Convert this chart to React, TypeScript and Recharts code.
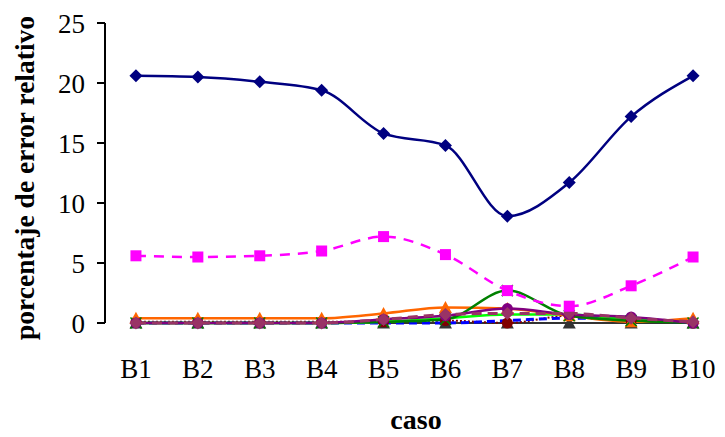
import { Line, LineChart, XAxis, YAxis } from "recharts";

const casos = ["B1", "B2", "B3", "B4", "B5", "B6", "B7", "B8", "B9", "B10"];
const yTicks = [0, 5, 10, 15, 20, 25];
const bounds = [0.5, 1.5, 2.5, 3.5, 4.5, 5.5, 6.5, 7.5, 8.5, 9.5, 10.5];

const s1 = [20.6, 20.5, 20.1, 19.4, 15.8, 14.8, 8.9, 11.7, 17.2, 20.6];
const s2 = [5.6, 5.5, 5.6, 6.0, 7.2, 5.7, 2.7, 1.4, 3.1, 5.5];
const s3 = [0.4, 0.4, 0.4, 0.4, 0.8, 1.3, 1.2, 0.6, 0.1, 0.4];
const s4 = [0, 0, 0, 0, 0, 0, 0, 0, 0, 0];
const s5 = [0, 0, 0, 0, 0.1, 0.3, 2.7, 0.6, 0.2, 0];
const s6 = [0, 0, 0, 0, 0.1, 0.4, 0.7, 0.7, 0.3, 0.1];
const s7 = [0, 0, 0, 0, 0, 0, 0.2, 0.4, 0.3, 0];
const s8 = [0.1, 0.1, 0.1, 0.1, 0.1, 0.2, 0, 0.6, 0.2, 0];
const s9 = [0, 0, 0, 0, 0.3, 0.6, 1.2, 0.7, 0.5, 0];
const s10 = [0, 0, 0, 0, 0.3, 0.7, 0.8, 0.8, 0.4, 0.1];

const data = casos.map((c, i) => ({
  x: i + 1, caso: c,
  s1: s1[i], s2: s2[i], s3: s3[i], s4: s4[i], s5: s5[i],
  s6: s6[i], s7: s7[i], s8: s8[i], s9: s9[i], s10: s10[i],
}));

const FONT = "'Liberation Serif', 'Times New Roman', serif";

type Shape = "diamond" | "square" | "triangle" | "x" | "circle";

const dot = (shape: Shape, color: string) => (p: any) => {
  const { cx, cy, index } = p;
  const k = `${shape}-${color}-${index}`;
  if (cx == null || cy == null) return <g key={k} />;
  const r = 5.5;
  if (shape === "diamond")
    return <polygon key={k} points={`${cx},${cy - r - 1} ${cx + r + 1},${cy} ${cx},${cy + r + 1} ${cx - r - 1},${cy}`} fill={color} />;
  if (shape === "square")
    return <rect key={k} x={cx - r} y={cy - r} width={2 * r} height={2 * r} fill={color} />;
  if (shape === "triangle")
    return <polygon key={k} points={`${cx},${cy - r - 1} ${cx + r + 1},${cy + r} ${cx - r - 1},${cy + r}`} fill={color} />;
  if (shape === "x")
    return (
      <g key={k} stroke={color} strokeWidth={1.5}>
        <line x1={cx - r} y1={cy - r} x2={cx + r} y2={cy + r} />
        <line x1={cx - r} y1={cy + r} x2={cx + r} y2={cy - r} />
      </g>
    );
  return <circle key={k} cx={cx} cy={cy} r={r} fill={color} />;
};

const series: { key: string; color: string; dash?: string; shape?: Shape; width?: number }[] = [
  { key: "s4", color: "#333333", shape: "triangle" },
  { key: "s8", color: "#800000", dash: "2 2", shape: "circle" },
  { key: "s7", color: "#0000FF", dash: "8 5", width: 3 },
  { key: "s6", color: "#00FF00", width: 2.5 },
  { key: "s3", color: "#FF6600", shape: "triangle", width: 2.5 },
  { key: "s5", color: "#008000", shape: "x", width: 2.5 },
  { key: "s9", color: "#800080", shape: "circle", width: 2.5 },
  { key: "s10", color: "#993366", dash: "10 6", shape: "diamond", width: 3 },
  { key: "s2", color: "#FF00FF", dash: "10 8", shape: "square", width: 2.5 },
  { key: "s1", color: "#000080", shape: "diamond", width: 2.5 },
];

export default function App() {
  return (
    <div style={{ position: "absolute", left: 0, top: 0, background: "#fff" }}>
      <LineChart width={725} height={437} data={data} margin={{ top: 23, right: 1, left: 60, bottom: 74 }}>
        <XAxis
          xAxisId="lab" dataKey="x" type="number" domain={[0.5, 10.5]} ticks={[1, 2, 3, 4, 5, 6, 7, 8, 9, 10]}
          tickFormatter={(v: number) => casos[v - 1]} tickLine={false} axisLine={false}
          tick={{ fill: "#000", fontSize: 27, fontFamily: FONT }} tickMargin={30} height={40}
          label={{
            content: () => (
              <text x={416} y={429} textAnchor="middle" fontSize={28} fontWeight="bold" fontFamily={FONT} fill="#000">
                caso
              </text>
            ),
          }}
        />
        <XAxis
          xAxisId="bnd" dataKey="x" type="number" domain={[0.5, 10.5]} ticks={bounds} tick={false}
          tickSize={8} stroke="#000" strokeWidth={2} orientation="bottom" height={0}
        />
        <YAxis
          domain={[0, 25]} ticks={yTicks} tickSize={8} tickMargin={12} width={45} stroke="#000" strokeWidth={2}
          tick={{ fill: "#000", fontSize: 27, fontFamily: FONT }}
          label={{
            content: () => (
              <text x={34} y={178} transform="rotate(-90 34 178)" textAnchor="middle" fontSize={27.5} fontWeight="bold" fontFamily={FONT} fill="#000">
                porcentaje de error relativo
              </text>
            ),
          }}
        />
        {series.map((s) => (
          <Line
            key={s.key} xAxisId="lab" dataKey={s.key} type="monotone" stroke={s.color} strokeWidth={s.width ?? 2}
            strokeDasharray={s.dash} dot={s.shape ? dot(s.shape, s.color) : false} activeDot={false}
            isAnimationActive={false}
          />
        ))}
      </LineChart>
    </div>
  );
}
